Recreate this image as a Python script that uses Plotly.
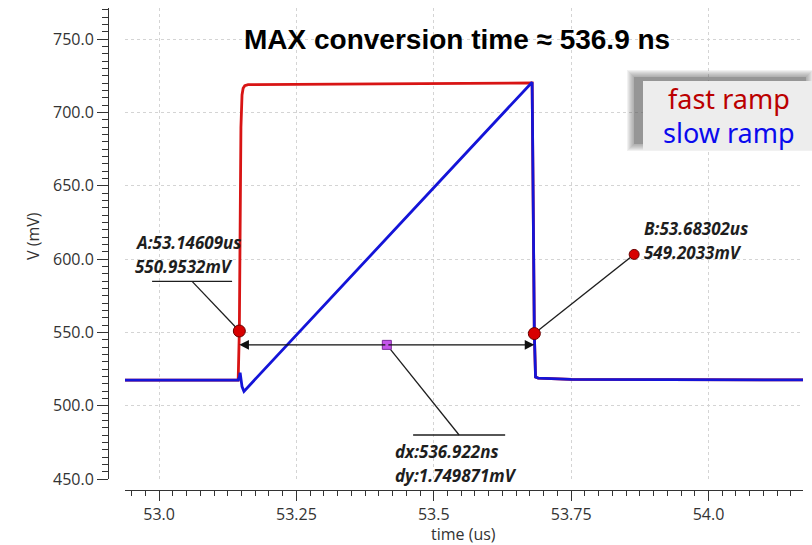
import numpy as np
import plotly.graph_objects as go

# ---- waveform samples (time in us, voltage in mV) ----
fast_t = [52.938, 53.1440, 53.14609, 53.1490, 53.1510, 53.1530, 53.1560, 53.1620,
          53.4000, 53.6790, 53.68302, 53.6852, 53.6900, 53.7500, 54.172]
fast_v = [517.5, 517.5, 550.9532, 690.0, 712.0, 716.5, 718.3, 719.0,
          719.6, 720.2, 549.2033, 519.5, 518.8, 518.0, 517.6]

slow_t = [52.938, 53.1440, 53.1462, 53.1475, 53.1510, 53.1545, 53.6790,
          53.68302, 53.6852, 53.6900, 53.7500, 54.172]
slow_v = [517.5, 517.5, 519.5, 522.5, 513.0, 509.8, 720.7,
          549.2033, 519.5, 518.8, 518.0, 517.6]

# cursor readings
cursor_t = [53.14609, 53.68302]
cursor_v = [550.9532, 549.2033]
delta_dx_ns = 536.922
delta_dy_mv = 1.749871
delta_level = 541.5

x_tickvals = [53.0, 53.25, 53.5, 53.75, 54.0]
x_ticktext = ["53.0", "53.25", "53.5", "53.75", "54.0"]

X_RANGE = [52.938, 54.172]
Y_RANGE = [450.0, 771.3]

# ---- page geometry (pixels) ----
W, H = 812, 545
ML, MR, MT, MB = 108, 9, 8, 55
PW, PH = W - ML - MR, H - MT - MB


def px_x(px):
    return (px - ML) / PW


def px_y(py):
    return (H - MB - py) / PH


RED = "#d81414"
BLUE = "#1414d8"
INK = "#1e1e1e"
AX = "#333333"

fig = go.Figure()

fig.add_trace(go.Scatter(x=fast_t, y=fast_v, mode="lines",
                         line=dict(color=RED, width=2.8), hoverinfo="skip"))
fig.add_trace(go.Scatter(x=slow_t, y=slow_v, mode="lines",
                         line=dict(color=BLUE, width=2.8), hoverinfo="skip"))

mid_t = (cursor_t[0] + cursor_t[1]) / 2.0

# label anchor positions (data units)
A_LEAD_Y = 584.8
A_LEAD_X = [52.9873, 53.1329]
A_LEAD_KNEE = 53.0601
B_DOT = (53.8647, 603.2)
D_LEAD_Y = 480.0
D_LEAD_X = [53.4624, 53.6299]
D_LEAD_KNEE = 53.5461

leader = dict(color=INK, width=1.3)
# cursor A leader
fig.add_trace(go.Scatter(x=[A_LEAD_X[0], A_LEAD_X[1]], y=[A_LEAD_Y, A_LEAD_Y],
                         mode="lines", line=leader, hoverinfo="skip"))
fig.add_trace(go.Scatter(x=[A_LEAD_KNEE, cursor_t[0]], y=[A_LEAD_Y, cursor_v[0]],
                         mode="lines", line=leader, hoverinfo="skip"))
# cursor B leader
fig.add_trace(go.Scatter(x=[cursor_t[1], B_DOT[0]], y=[cursor_v[1], B_DOT[1]],
                         mode="lines", line=leader, hoverinfo="skip"))
# delta leader
fig.add_trace(go.Scatter(x=[mid_t, D_LEAD_KNEE], y=[delta_level, D_LEAD_Y],
                         mode="lines", line=leader, hoverinfo="skip"))
fig.add_trace(go.Scatter(x=D_LEAD_X, y=[D_LEAD_Y, D_LEAD_Y],
                         mode="lines", line=leader, hoverinfo="skip"))

# markers
fig.add_trace(go.Scatter(x=cursor_t, y=cursor_v, mode="markers",
                         marker=dict(color="#d80000", size=12,
                                     line=dict(color="#6a0000", width=1)),
                         hoverinfo="skip"))
fig.add_trace(go.Scatter(x=[B_DOT[0]], y=[B_DOT[1]], mode="markers",
                         marker=dict(color="#d80000", size=10,
                                     line=dict(color="#6a0000", width=1)),
                         hoverinfo="skip"))

annotations = []
# delta arrow (two heads pointing outward)
for tip in cursor_t:
    annotations.append(dict(x=tip, y=delta_level, ax=mid_t, ay=delta_level,
                            xref="x", yref="y", axref="x", ayref="y",
                            text="", showarrow=True, arrowhead=2,
                            arrowsize=1.6, arrowwidth=1.2, arrowcolor="#111111",
                            standoff=0, startstandoff=0))

fig.add_trace(go.Scatter(x=[mid_t], y=[delta_level], mode="markers",
                         marker=dict(color="#c455ea", size=9, symbol="square",
                                     line=dict(color="#7d2c9c", width=1)),
                         hoverinfo="skip"))

lab_font = dict(family="Noto Sans", size=17, color=INK)


def label(x, y, txt):
    annotations.append(dict(x=x, y=y, xref="x", yref="y", text="<b><i>" + txt + "</i></b>",
                            showarrow=False, xanchor="left", yanchor="middle",
                            font=lab_font))


label(52.9527, 611.4, "A:%.5fus" % cursor_t[0])
label(52.9527, 595.0, "%.4fmV" % cursor_v[0])
label(53.8793, 620.9, "B:%.5fus" % cursor_t[1])
label(53.8793, 604.8, "%.4fmV" % cursor_v[1])
label(53.4260, 469.0, "dx:%.3fns" % delta_dx_ns)
label(53.4260, 452.7, "dy:%.6fmV" % delta_dy_mv)

# title
annotations.append(dict(x=px_x(457), y=px_y(40), xref="paper", yref="paper",
                        text="<b>MAX conversion time \u2248 536.9 ns</b>", showarrow=False,
                        xanchor="center", yanchor="middle",
                        font=dict(family="Liberation Sans", size=28, color="#000000")))

# axis titles
annotations.append(dict(x=px_x(463), y=px_y(534), xref="paper", yref="paper",
                        text="time (us)", showarrow=False, xanchor="center", yanchor="middle",
                        font=dict(family="Open Sans", size=16, color=AX)))
annotations.append(dict(x=px_x(33), y=px_y(236), xref="paper", yref="paper",
                        text="V (mV)", showarrow=False, textangle=-90,
                        xanchor="center", yanchor="middle",
                        font=dict(family="Open Sans", size=16, color=AX)))

# series key box with soft drop shadow
shapes = []
for g in range(7, -1, -1):
    shapes.append(dict(type="rect", xref="paper", yref="paper",
                       x0=px_x(634 - g), x1=px_x(806 + g), y0=px_y(144 + g), y1=px_y(77 - g),
                       fillcolor="#606060", opacity=0.09 if g else 0.35,
                       line=dict(width=0), layer="above"))
shapes.append(dict(type="rect", xref="paper", yref="paper",
                   x0=px_x(643), x1=px_x(812), y0=px_y(150), y1=px_y(81),
                   fillcolor="#ededed", line=dict(width=0), layer="above"))
annotations.append(dict(x=px_x(729), y=px_y(98), xref="paper", yref="paper",
                        text="fast ramp", showarrow=False, xanchor="center", yanchor="middle",
                        font=dict(family="Noto Sans", size=27, color="#bb0000")))
annotations.append(dict(x=px_x(729), y=px_y(132), xref="paper", yref="paper",
                        text="slow ramp", showarrow=False, xanchor="center", yanchor="middle",
                        font=dict(family="Noto Sans", size=27, color="#0a0aee")))

tick_font = dict(family="Open Sans", size=16, color=AX)

fig.update_layout(
    width=W, height=H,
    margin=dict(l=ML, r=MR, t=MT, b=MB, pad=0),
    paper_bgcolor="white", plot_bgcolor="white",
    showlegend=False,
    shapes=shapes,
    annotations=annotations,
    xaxis=dict(range=X_RANGE, domain=[px_x(125), 1.0], anchor="free", position=0.0,
               tickmode="array", tickvals=x_tickvals, ticktext=x_ticktext,
               ticks="outside", ticklen=10, tickwidth=1, tickcolor=AX,
               showline=True, linecolor=AX, linewidth=1,
               showgrid=True, gridcolor="#d4d4d4", griddash="dot", gridwidth=1,
               zeroline=False, tickfont=tick_font,
               minor=dict(tickmode="linear", tick0=53.0, dtick=0.025, ticks="outside",
                          ticklen=5, tickcolor=AX, showgrid=False)),
    yaxis=dict(range=Y_RANGE, domain=[px_y(479), 1.0], anchor="free", position=0.0,
               tickmode="linear", tick0=0, dtick=50, tickformat=".1f",
               ticks="outside", ticklen=11, tickwidth=1, tickcolor=AX,
               showline=True, linecolor=AX, linewidth=1,
               showgrid=True, gridcolor="#d4d4d4", griddash="dot", gridwidth=1,
               zeroline=False, tickfont=tick_font,
               minor=dict(tickmode="linear", tick0=0, dtick=5, ticks="outside",
                          ticklen=6, tickcolor=AX, showgrid=False)),
)

fig.write_html("out.html")
